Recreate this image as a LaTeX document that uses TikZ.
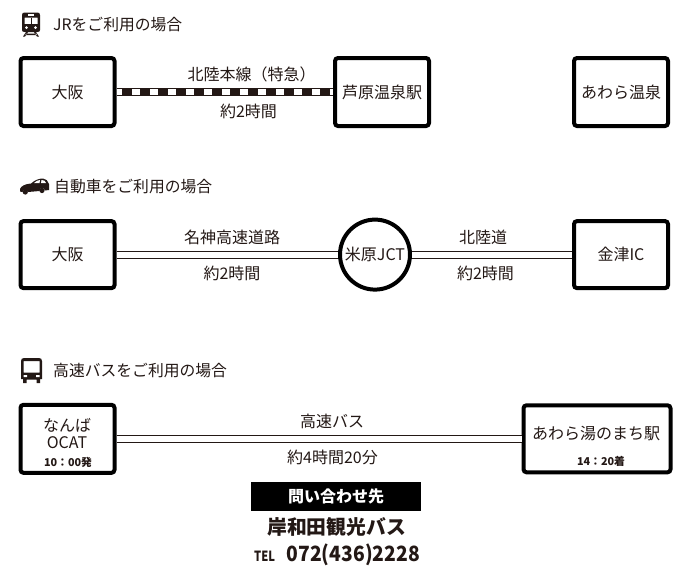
\documentclass[tikz,border=0pt]{standalone}
\usepackage{fontspec}
\setmainfont{Noto Sans CJK JP}
\definecolor{ink}{HTML}{231815}
\begin{document}
\begin{tikzpicture}[x=1pt,y=-1pt,
  station/.style={draw=black,line width=4pt,rounded corners=3pt,fill=white,inner sep=0pt,align=center,font=\fontsize{16}{19}\selectfont,text=ink},
  jct/.style={draw=black,line width=4pt,circle,fill=white,minimum size=70pt,inner sep=0pt,font=\fontsize{16}{19}\selectfont,text=ink},
  road/.style={draw=ink,line width=1pt,double=white,double distance=6.2pt},
  lbl/.style={font=\fontsize{16}{18}\selectfont,inner sep=0pt,text=ink},
  head/.style={font=\fontsize{15.8}{17}\selectfont,inner sep=0pt,anchor=west,text=ink},
  small/.style={font=\fontsize{10.8}{12}\bfseries\selectfont,inner sep=0pt,text=ink}]
\useasboundingbox (0,0) rectangle (690,579);
\fill[white] (0,0) rectangle (690,579);
% stations
\node[station,minimum width=94pt,minimum height=68pt] (osakaA) at (67.5,92) {\raisebox{-1pt}{大阪}};
\node[station,minimum width=94pt,minimum height=68pt] (ashihara) at (382,92) {\raisebox{-1pt}{芦原温泉駅}};
\node[station,minimum width=94pt,minimum height=68pt] (awara) at (621,92) {\raisebox{-1pt}{あわら温泉}};
\node[station,minimum width=94pt,minimum height=67pt] (osakaB) at (67.5,254.6) {\raisebox{-1pt}{大阪}};
\node[jct] (maibara) at (375,254.6) {\raisebox{-1pt}{米原JCT}};
\node[station,minimum width=94pt,minimum height=67pt] (kanazu) at (621,254.6) {\raisebox{-1pt}{金津IC}};
\node[station,minimum width=94pt,minimum height=68pt] (namba) at (67.5,438.8) {};
\node[station,minimum width=147pt,minimum height=67pt] (yunomachi) at (597,438.8) {};
% connectors
\fill[ink] ([yshift=-3.9pt]osakaA.east) rectangle ([yshift=3.9pt]ashihara.west);
\draw[white,line width=5.4pt,dash pattern=on 8pt off 10pt,dash phase=2.5pt] (osakaA.east) -- (ashihara.west);
\draw[road] (osakaB.east) -- (maibara.west);
\draw[road] (maibara.east) -- (kanazu.west);
\draw[road] (namba.east) -- (yunomachi.west);
% headings
\node[head] (h1) at (53,24.5) {JRをご利用の場合};
\node[head] (h2) at (54,186.5) {自動車をご利用の場合};
\node[head] (h3) at (53,370.5) {高速バスをご利用の場合};
% labels
\node[lbl] (l1) at (251.5,74) {北陸本線（特急）};
\node[lbl] (l2) at (248.5,111) {約2時間};
\node[lbl] (l3) at (232,237) {名神高速道路};
\node[lbl] (l4) at (232,273) {約2時間};
\node[lbl] (l5) at (483,237) {北陸道};
\node[lbl] (l6) at (485.5,273) {約2時間};
\node[lbl] (l7) at (332,421) {高速バス};
\node[lbl] (l8) at (332.5,457) {約4時間20分};
% text in bus boxes
\node[inner sep=0pt,font=\fontsize{16}{18}\selectfont,text=ink] (t1) at (67,425) {なんば};
\node[inner sep=0pt,font=\fontsize{16}{18}\selectfont,text=ink] (t2) at (67,443) {OCAT};
\node[small] (t3) at (68,462) {10：00発};
\node[inner sep=0pt,font=\fontsize{16}{19}\selectfont,text=ink] (t4) at (596,434) {あわら湯のまち駅};
\node[small] (t5) at (601,461) {14：20着};
% contact
\node[fill=black,text=white,minimum width=170pt,minimum height=29pt,inner sep=0pt,font=\fontsize{16}{17}\bfseries\selectfont] (ct) at (336,496) {問い合わせ先};
\node[inner sep=0pt,font=\fontsize{19.8}{23}\bfseries\selectfont,text=ink] (c2) at (336.5,527) {岸和田観光バス};
\node[inner sep=0pt,anchor=base west,font=\fontsize{14}{17}\bfseries\selectfont,text=ink] (c3) at (254,561) {\scalebox{0.8}[1]{TEL}};
\node[inner sep=0pt,anchor=base east,font=\fontsize{21}{25}\bfseries\selectfont,text=ink] (c4) at (420,561) {\scalebox{0.92}[1]{072(436)2228}};
% train icon
\begin{scope}[shift={(22,12)},even odd rule]
\fill[ink] (0,3) .. controls (0,1) and (1,0.5) .. (3,0.5) -- (15,0.5) .. controls (17,0.5) and (18,1) .. (18,3) -- (18,18) .. controls (18,19.5) and (17,20) .. (15,20) -- (3,20) .. controls (1,20) and (0,19.5) .. (0,18) -- cycle
 (2.5,5.5) rectangle (15.5,12);
\fill[ink] (4,20) -- (6,20) -- (3,24.5) -- (1,24.5) -- cycle (14,20) -- (12,20) -- (15,24.5) -- (17,24.5) -- cycle (3.5,23) rectangle (14.5,21.6);
\fill[white] (4.5,15.5) circle (1.5) (13.5,15.5) circle (1.5);
\fill[white] (6,2.2) rectangle (12,3.5);
\fill[ink] (8.6,5.5) rectangle (9.4,12);
\end{scope}
% car icon
\begin{scope}[shift={(20,178)}]
\fill[ink] (0,11) .. controls (1,8) and (5,6) .. (11,5.5) .. controls (15,2) and (19,0.5) .. (23,0.5) .. controls (26,0.5) and (28,3) .. (29,6) -- (29,12) -- (25,12.5) .. controls (24,9) and (20,9) .. (19.5,13) -- (8,14) .. controls (7,11) and (3,11) .. (2.5,14) -- (0,13.5) -- cycle;
\fill[ink] (22,12.5) circle (2.6) (5.3,14) circle (2.6);
\fill[white] (14,5) .. controls (16,3) and (18,2) .. (20,2) -- (19.5,5) -- cycle (21.5,2) .. controls (24,1.8) and (25.5,3) .. (26,5) -- (21,5) -- cycle;
\end{scope}
% bus icon
\begin{scope}[shift={(21,358)},even odd rule]
\fill[ink] (0,3) .. controls (0,1) and (1,0) .. (3,0) -- (18,0) .. controls (20,0) and (21,1) .. (21,3) -- (21,21) -- (19,21) -- (19,25) -- (15.5,25) -- (15.5,21.5) -- (5.5,21.5) -- (5.5,25) -- (2,25) -- (2,21) -- (0,21) -- cycle
 (2.5,3) rectangle (18.5,14.5);
\fill[white] (2.5,17) rectangle (6,19) (15,17) rectangle (18.5,19);
\end{scope}
\end{tikzpicture}
\end{document}
